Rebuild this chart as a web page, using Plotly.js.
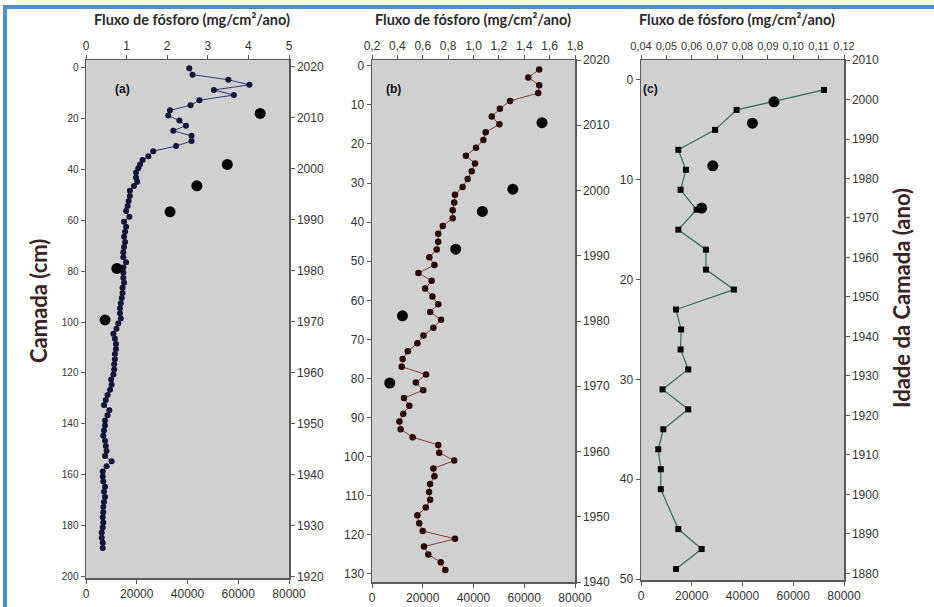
<!DOCTYPE html>
<html>
<head>
<meta charset="utf-8">
<script src="https://cdn.plot.ly/plotly-3.0.1.min.js"></script>
<style>
  html, body { margin: 0; padding: 0; background: #ffffff; }
  #chart { width: 934px; height: 607px; }
</style>
</head>
<body>
<div id="chart"></div>
<script>
// ---------- Panel (a) ----------
const depthA = [0.5, 3, 5, 7, 9, 11, 13, 15, 17, 19, 21, 23, 25, 27, 29, 31, 33, 35,
  36.5, 38.2, 39.7, 41.4, 43.3, 45, 46.7, 48.5, 50.6, 52.5, 54.5, 56.5, 58.7, 60.7, 62.6,
  64.6, 66.6, 68.6, 70.6, 72.6, 74.6, 76.6, 78.6, 80.6, 82.6, 84.6, 86.6, 88.6, 90.6, 92.6,
  94.6, 96.6, 98.6, 100.6, 102.6, 104.6, 106.6, 108.6, 110.6, 112.6, 114.6, 116.6, 118.6,
  120.6, 122.6, 124.6, 126.6, 128.6, 130.6, 132.6, 134.6, 136.6, 138.6, 140.6, 142.6, 144.6,
  146.6, 148.6, 150.6, 152.6, 154.6, 156.6, 158.6, 160.6, 162.6, 164.6, 166.6, 168.6, 170.6,
  172.6, 174.6, 176.6, 178.6, 180.6, 182.6, 184.6, 186.6, 188.6];
const concA = [40700, 42000, 56100, 64400, 50400, 58300, 44700, 41200, 33100, 32400, 36800, 39400,
  34400, 41600, 41600, 35500, 26500, 24600,
  22300, 21300, 20600, 19700, 19700, 20200, 18900, 17300, 17300, 16800, 16400, 15800, 17100, 15000, 15800,
  15400, 15000, 15400, 15000, 14700, 14700, 15800, 14700, 14700, 14700, 15000, 14400, 14400, 14100, 13700,
  13400, 13400, 13700, 12700, 12000, 10800, 11400, 11800, 11800, 11400, 11400, 11100, 11100,
  10800, 9900, 10100, 9500, 8500, 7800, 7100, 9200, 8500, 7500, 7500, 7100, 6800,
  7500, 7800, 8100, 7500, 10100, 8100, 6600, 6600, 6800, 7500, 7100, 7500, 7100,
  6800, 6800, 6600, 6800, 6600, 6200, 6200, 6600, 6600];
const fluxA = [4.29, 3.48, 2.73, 2.07, 0.76, 0.47];
const yearA = [2010.9, 2000.9, 1996.7, 1991.6, 1980.5, 1970.4];

// ---------- Panel (b) ----------
const depthB = [1, 3, 5, 7, 9, 11, 13, 15, 17, 19, 21, 23, 25, 27, 29, 31, 33, 35, 37, 39,
  41, 43, 45, 47, 49, 51, 53, 55, 57, 59, 61, 63, 65, 67, 69, 71, 73, 75, 77, 79,
  81, 83, 85, 87, 89, 91, 93, 95, 97, 99, 101, 103, 105, 107, 109, 111, 113, 115, 117, 119,
  121, 123, 125, 127, 129];
const concB = [65900, 61600, 65900, 65500, 54400, 50400, 47200, 50200, 44800, 43900, 41000, 37000,
  40600, 39300, 37700, 35700, 32700, 32400, 31800, 31800,
  27900, 26100, 26100, 25500, 22600, 24600, 18300, 23500, 20900, 23800, 26100, 22900, 27200, 24200,
  20300, 17900, 14100, 12100, 11700, 21300,
  17300, 20200, 12600, 14700, 12300, 10800, 11300, 16000, 26100, 26500, 32400, 24200, 24600, 22900,
  22500, 22900, 21200, 17900, 18600, 20000,
  32700, 20500, 22200, 27100, 28900];
const fluxB = [1.54, 1.31, 1.07, 0.86, 0.44, 0.34];
const yearB = [2010.4, 2000.2, 1996.8, 1991.0, 1980.8, 1970.5];

// ---------- Panel (c) ----------
const depthC = [1, 3, 5, 7, 9, 11, 13, 15, 17, 19, 21, 23, 25, 27, 29, 31, 33, 35, 37, 39, 41, 45, 47, 49];
const concC = [72100, 37700, 29200, 14700, 17700, 15600, 21900, 14700, 25600, 25600, 36600, 13800,
  15800, 15600, 18600, 8500, 18600, 8800, 6800, 7800, 7800, 14700, 23900, 13800];
const fluxC = [0.0924, 0.0839, 0.0683, 0.0639];
const yearC = [1999.4, 1994.0, 1983.2, 1972.5];

// ---------- Tick labels ----------
const bottomTicks = [0, 20000, 40000, 60000, 80000];
const bottomText = ['0', '20000', '40000', '60000', '80000'];
const topTicksA = [0, 1, 2, 3, 4, 5];
const topTextA = ['0', '1', '2', '3', '4', '5'];
const topTicksB = [0.2, 0.4, 0.6, 0.8, 1.0, 1.2, 1.4, 1.6, 1.8];
const topTextB = ['0,2', '0,4', '0,6', '0,8', '1,0', '1,2', '1,4', '1,6', '1,8'];
const topTicksC = [0.04, 0.05, 0.06, 0.07, 0.08, 0.09, 0.10, 0.11, 0.12];
const topTextC = ['0,04', '0,05', '0,06', '0,07', '0,08', '0,09', '0,10', '0,11', '0,12'];
const leftTicksA = [0, 20, 40, 60, 80, 100, 120, 140, 160, 180, 200];
const leftTicksB = [0, 10, 20, 30, 40, 50, 60, 70, 80, 90, 100, 110, 120, 130];
const leftTicksC = [0, 10, 20, 30, 40, 50];
const rightTicksA = [1920, 1930, 1940, 1950, 1960, 1970, 1980, 1990, 2000, 2010, 2020];
const rightTicksB = [1940, 1950, 1960, 1970, 1980, 1990, 2000, 2010, 2020];
const rightTicksC = [1880, 1890, 1900, 1910, 1920, 1930, 1940, 1950, 1960, 1970, 1980, 1990, 2000, 2010];

const topTitle = 'Fluxo de fósforo (mg/cm²/ano)';
const leftTitle = 'Camada (cm)';
const rightTitle = 'Idade da Camada (ano)';

// ---------- Geometry ----------
const W = 934, H = 607;
const px = v => v / W;
const py = v => 1 - v / H;
const domXA = [px(86), px(289)], domXB = [px(372), px(575)], domXC = [px(641), px(844)];
const domYA = [py(578), py(60)], domYB = [py(582), py(60)], domYC = [py(580), py(60)];

const tickFont = {family: 'Arial, Liberation Sans, sans-serif', size: 12, color: '#333'};
const axisLine = {showline: true, linecolor: '#5a5a5a', linewidth: 1.5, ticks: 'outside',
  ticklen: 4, tickcolor: '#5a5a5a', showgrid: false, zeroline: false, tickmode: 'array',
  tickangle: 0, fixedrange: true};

function xb(dom, anchor) {
  return Object.assign({}, axisLine, {domain: dom, anchor: anchor, side: 'bottom', range: [0, 80000],
    tickvals: bottomTicks, ticktext: bottomText, tickfont: tickFont});
}
function xt(over, anchor, range, vals, text, size) {
  return Object.assign({}, axisLine, {overlaying: over, anchor: anchor, side: 'top', range: range,
    tickvals: vals, ticktext: text, tickfont: Object.assign({}, tickFont, {size: size})});
}
function yl(dom, anchor, range, vals, size) {
  return Object.assign({}, axisLine, {domain: dom, anchor: anchor, side: 'left', range: range,
    tickvals: vals, ticktext: vals.map(String), tickfont: Object.assign({}, tickFont, {size: size})});
}
function yr(over, anchor, range, vals) {
  return Object.assign({}, axisLine, {overlaying: over, anchor: anchor, side: 'right', range: range,
    tickvals: vals, ticktext: vals.map(String), tickfont: tickFont});
}

const traces = [
  {x: concA, y: depthA, xaxis: 'x', yaxis: 'y', mode: 'lines+markers', type: 'scatter',
   line: {color: '#33337a', width: 1}, marker: {color: '#141438', size: 6}},
  {x: fluxA, y: yearA, xaxis: 'x2', yaxis: 'y2', mode: 'markers', type: 'scatter',
   marker: {color: '#050505', size: 11}},
  {x: concB, y: depthB, xaxis: 'x3', yaxis: 'y3', mode: 'lines+markers', type: 'scatter',
   line: {color: '#8a3b3b', width: 1}, marker: {color: '#2a0606', size: 6.5}},
  {x: fluxB, y: yearB, xaxis: 'x4', yaxis: 'y4', mode: 'markers', type: 'scatter',
   marker: {color: '#050505', size: 11}},
  {x: concC, y: depthC, xaxis: 'x5', yaxis: 'y5', mode: 'lines+markers', type: 'scatter',
   line: {color: '#2f6a5c', width: 1.2}, marker: {color: '#050505', size: 6, symbol: 'square'}},
  {x: fluxC, y: yearC, xaxis: 'x6', yaxis: 'y6', mode: 'markers', type: 'scatter',
   marker: {color: '#050505', size: 11}}
];

const titleFont = {family: 'Lato, Open Sans, sans-serif', size: 14.5, color: '#2a2a2a', weight: 'bold'};
const sideFont = {family: 'Lato, Open Sans, sans-serif', size: 22, color: '#3a2424', weight: 'bold'};

const layout = {
  width: W, height: H,
  margin: {l: 0, r: 0, t: 0, b: 0, pad: 0},
  paper_bgcolor: '#ffffff',
  plot_bgcolor: '#d0d0d0',
  showlegend: false,
  xaxis: xb(domXA, 'y'),
  xaxis2: xt('x', 'y', [0, 5], topTicksA, topTextA, 12),
  yaxis: yl(domYA, 'x', [200.4, -2.75], leftTicksA, 10),
  yaxis2: yr('y', 'x', [1919.8, 2021.37], rightTicksA),
  xaxis3: xb(domXB, 'y3'),
  xaxis4: xt('x3', 'y3', [0.2, 1.8], topTicksB, topTextB, 12),
  yaxis3: yl(domYB, 'x3', [132.05, -1.46], leftTicksB, 12),
  yaxis4: yr('y3', 'x3', [1940, 2020], rightTicksB),
  xaxis5: xb(domXC, 'y5'),
  xaxis6: xt('x5', 'y5', [0.04, 0.12], topTicksC, topTextC, 11),
  yaxis5: yl(domYC, 'x5', [50.1, -2.0], leftTicksC, 12),
  yaxis6: yr('y5', 'x5', [1878.35, 2010], rightTicksC),
  shapes: [
    {type: 'line', xref: 'paper', yref: 'paper', x0: px(3), x1: 1, y0: py(7), y1: py(7),
     line: {color: '#4a8fd2', width: 4}},
    {type: 'line', xref: 'paper', yref: 'paper', x0: px(5), x1: px(5), y0: 0, y1: py(5),
     line: {color: '#4a8fd2', width: 4}}
  ],
  annotations: [
    {text: topTitle, xref: 'paper', yref: 'paper', x: px(192), y: py(20), showarrow: false,
     font: titleFont, xanchor: 'center', yanchor: 'middle'},
    {text: topTitle, xref: 'paper', yref: 'paper', x: px(473), y: py(20), showarrow: false,
     font: titleFont, xanchor: 'center', yanchor: 'middle'},
    {text: topTitle, xref: 'paper', yref: 'paper', x: px(737), y: py(20), showarrow: false,
     font: titleFont, xanchor: 'center', yanchor: 'middle'},
    {text: leftTitle, xref: 'paper', yref: 'paper', x: px(38), y: py(301), showarrow: false,
     font: sideFont, textangle: -90, xanchor: 'center', yanchor: 'middle'},
    {text: rightTitle, xref: 'paper', yref: 'paper', x: px(901), y: py(298), showarrow: false,
     font: sideFont, textangle: -90, xanchor: 'center', yanchor: 'middle'},
    {text: '(a)', xref: 'paper', yref: 'paper', x: px(113), y: py(80), showarrow: false,
     font: {family: 'Arial, sans-serif', size: 12, color: '#111', weight: 'bold'}},
    {text: '(b)', xref: 'paper', yref: 'paper', x: px(393), y: py(80), showarrow: false,
     font: {family: 'Arial, sans-serif', size: 12, color: '#111', weight: 'bold'}},
    {text: '(c)', xref: 'paper', yref: 'paper', x: px(660), y: py(80), showarrow: false,
     font: {family: 'Arial, sans-serif', size: 12, color: '#111', weight: 'bold'}}
  ]
};

Plotly.newPlot('chart', traces, layout, {displayModeBar: false, staticPlot: true});
</script>
</body>
</html>
